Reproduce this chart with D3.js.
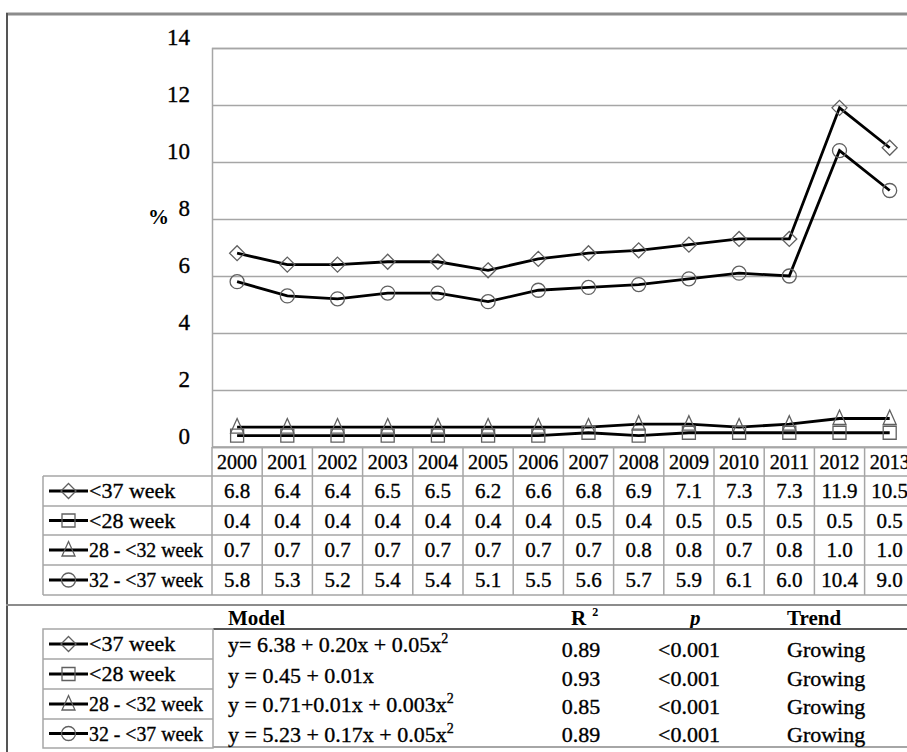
<!DOCTYPE html>
<html>
<head>
<meta charset="utf-8">
<script src="https://cdn.jsdelivr.net/npm/d3@7"></script>
<style>
  body { margin: 0; background: #fff; }
  svg { display: block; font-family: "Liberation Serif", "Times New Roman", serif; }
  .heavy { stroke: #000; stroke-width: 0.35px; }
</style>
</head>
<body>
<svg id="chart" width="907" height="752"></svg>
<script>
// data
var years = ["2000","2001","2002","2003","2004","2005","2006","2007","2008","2009","2010","2011","2012","2013"];
var seriesNames = ["<37 week", "<28 week", "28 - <32 week", "32 - <37 week"];
var markerTypes = ["diamond", "square", "triangle", "circle"];
var lt37   = [6.8, 6.4, 6.4, 6.5, 6.5, 6.2, 6.6, 6.8, 6.9, 7.1, 7.3, 7.3, 11.9, 10.5];
var lt28   = [0.4, 0.4, 0.4, 0.4, 0.4, 0.4, 0.4, 0.5, 0.4, 0.5, 0.5, 0.5, 0.5, 0.5];
var w28_32 = [0.7, 0.7, 0.7, 0.7, 0.7, 0.7, 0.7, 0.7, 0.8, 0.8, 0.7, 0.8, 1.0, 1.0];
var w32_37 = [5.8, 5.3, 5.2, 5.4, 5.4, 5.1, 5.5, 5.6, 5.7, 5.9, 6.1, 6.0, 10.4, 9.0];
var yTicks = [0, 2, 4, 6, 8, 10, 12, 14];

// regression models table
var models = [
  [{t: "y= 6.38 + 0.20x + 0.05x"}, {t: "2", sup: true}],
  [{t: "y = 0.45 + 0.01x"}],
  [{t: "y = 0.71+0.01x + 0.003x"}, {t: "2", sup: true}],
  [{t: "y = 5.23 + 0.17x + 0.05x"}, {t: "2", sup: true}]
];
var r2 = ["0.89", "0.93", "0.85", "0.89"];
var pvals = ["<0.001", "<0.001", "<0.001", "<0.001"];
var trends = ["Growing", "Growing", "Growing", "Growing"];

var allSeries = [lt37, lt28, w28_32, w32_37];

var svg = d3.select("#chart");
var gridColor = "#a6a6a6";
var serif = "Liberation Serif, Times New Roman, serif";

var plotLeft = 212, colW = 50.2;
var x = d3.scaleBand().domain(years).range([plotLeft, plotLeft + colW * years.length]);
var y = d3.scaleLinear().domain([0, 14]).range([447, 48]);

/* outer frame */
svg.append("line").attr("x1", 6).attr("x2", 907).attr("y1", 14).attr("y2", 14)
  .attr("stroke", "#8c8c8c").attr("stroke-width", 3);
svg.append("line").attr("x1", 7).attr("x2", 7).attr("y1", 13).attr("y2", 752)
  .attr("stroke", "#555").attr("stroke-width", 2);

/* gridlines + axis */
var yAxis = d3.axisLeft(y).tickValues(yTicks).tickSize(-(907 - plotLeft)).tickPadding(22);
var ga = svg.append("g").attr("transform", "translate(" + plotLeft + ",0)").call(yAxis)
  .attr("font-family", serif);
ga.select(".domain").attr("stroke", gridColor).attr("stroke-width", 1.5);
ga.selectAll(".tick line").attr("stroke", gridColor).attr("stroke-width", 1.5);
ga.selectAll(".tick text").attr("font-size", 23).attr("fill", "#000").attr("class", "heavy")
  .attr("dy", "-0.15em");

svg.append("text").attr("x", 148).attr("y", 224).attr("font-size", 21)
  .attr("font-weight", "bold").text("%");

/* markers */
function drawMarker(g, type, cx, cy) {
  var s = g.append("path").attr("fill", "none").attr("stroke", "#606060").attr("stroke-width", 1.3);
  if (type === "diamond") s.attr("d", "M" + cx + "," + (cy - 7.5) + "L" + (cx + 7.5) + "," + cy + "L" + cx + "," + (cy + 7.5) + "L" + (cx - 7.5) + "," + cy + "Z");
  else if (type === "square") s.attr("d", "M" + (cx - 6.5) + "," + (cy - 6.5) + "h13v13h-13Z");
  else if (type === "triangle") s.attr("d", "M" + cx + "," + (cy - 8.5) + "L" + (cx + 6.5) + "," + (cy + 6) + "L" + (cx - 6.5) + "," + (cy + 6) + "Z");
  else s.attr("d", d3.arc()({innerRadius: 0, outerRadius: 7, startAngle: 0, endAngle: 2 * Math.PI}))
        .attr("transform", "translate(" + cx + "," + cy + ")");
}

var line = d3.line()
  .x(function (d, i) { return x(years[i]) + x.bandwidth() / 2; })
  .y(function (d) { return y(d); });

// draw small series first so the big ones sit on top
[2, 1, 0, 3].forEach(function (k) {
  var g = svg.append("g");
  g.append("path").datum(allSeries[k]).attr("d", line)
    .attr("fill", "none").attr("stroke", "#000").attr("stroke-width", 2.8);
  allSeries[k].forEach(function (v, i) {
    drawMarker(g, markerTypes[k], x(years[i]) + x.bandwidth() / 2, y(v));
  });
});

/* data table */
var rowTop = [447, 476, 506, 535, 565, 595];
var tbl = svg.append("g");
var fmt = d3.format(".1f");

// horizontal lines
tbl.append("line").attr("x1", plotLeft).attr("x2", 907).attr("y1", rowTop[0]).attr("y2", rowTop[0])
  .attr("stroke", gridColor).attr("stroke-width", 1.5);
rowTop.slice(1).forEach(function (yy) {
  tbl.append("line").attr("x1", 43).attr("x2", 907).attr("y1", yy).attr("y2", yy)
    .attr("stroke", gridColor).attr("stroke-width", 1.5);
});
// vertical lines
years.forEach(function (yr) {
  tbl.append("line").attr("x1", x(yr)).attr("x2", x(yr)).attr("y1", rowTop[0]).attr("y2", rowTop[5])
    .attr("stroke", gridColor).attr("stroke-width", 1.5);
});
tbl.append("line").attr("x1", 43).attr("x2", 43).attr("y1", rowTop[1]).attr("y2", rowTop[5])
  .attr("stroke", gridColor).attr("stroke-width", 1.5);

years.forEach(function (yr) {
  tbl.append("text").attr("x", x(yr) + x.bandwidth() / 2).attr("y", 469)
    .attr("text-anchor", "middle").attr("font-size", 20).attr("class", "heavy").text(yr);
});

var labelLens = [null, null, 114, 114];
function legendRow(g, k, top, h) {
  var cy = top + h / 2;
  g.append("line").attr("x1", 49).attr("x2", 88).attr("y1", cy).attr("y2", cy)
    .attr("stroke", "#000").attr("stroke-width", 2.8);
  drawMarker(g, markerTypes[k], 68.5, cy);
  var t = g.append("text").attr("x", 89).attr("y", cy + 7).attr("font-size", 22)
    .attr("class", "heavy").text(seriesNames[k]);
  if (labelLens[k]) t.attr("textLength", labelLens[k]).attr("lengthAdjust", "spacingAndGlyphs");
}

allSeries.forEach(function (vals, k) {
  legendRow(tbl, k, rowTop[k + 1], rowTop[k + 2] - rowTop[k + 1]);
  vals.forEach(function (v, i) {
    tbl.append("text").attr("x", x(years[i]) + x.bandwidth() / 2)
      .attr("y", (rowTop[k + 1] + rowTop[k + 2]) / 2 + 7)
      .attr("text-anchor", "middle").attr("font-size", 21).attr("class", "heavy").text(fmt(v));
  });
});

/* model section */
svg.append("line").attr("x1", 6).attr("x2", 907).attr("y1", 605).attr("y2", 605)
  .attr("stroke", "#8c8c8c").attr("stroke-width", 2);

var mg = svg.append("g");
mg.append("text").attr("x", 228).attr("y", 625).attr("font-size", 21).attr("font-weight", "bold").text("Model");
var r2h = mg.append("text").attr("x", 571).attr("y", 625).attr("font-size", 21).attr("font-weight", "bold").text("R");
r2h.append("tspan").attr("dx", 6).attr("dy", -9).attr("font-size", 12).text("2");
mg.append("text").attr("x", 690).attr("y", 625).attr("font-size", 21).attr("font-weight", "bold")
  .attr("font-style", "italic").text("p");
mg.append("text").attr("x", 787).attr("y", 625).attr("font-size", 21).attr("font-weight", "bold").text("Trend");

mg.append("line").attr("x1", 213).attr("x2", 907).attr("y1", 629).attr("y2", 629)
  .attr("stroke", "#555").attr("stroke-width", 2);
mg.append("line").attr("x1", 213).attr("x2", 907).attr("y1", 747).attr("y2", 747)
  .attr("stroke", gridColor).attr("stroke-width", 2);

var mRows = [629, 659, 689, 719, 748];
mg.append("rect").attr("x", 43).attr("y", mRows[0]).attr("width", 170).attr("height", mRows[4] - mRows[0])
  .attr("fill", "none").attr("stroke", gridColor).attr("stroke-width", 1.5);
mRows.slice(1, 4).forEach(function (yy) {
  mg.append("line").attr("x1", 43).attr("x2", 213).attr("y1", yy).attr("y2", yy)
    .attr("stroke", gridColor).attr("stroke-width", 1.5);
});

var eqBase = [652, 683, 712, 742];
var colBase = [657, 686, 714, 742];
models.forEach(function (parts, k) {
  legendRow(mg, k, mRows[k], mRows[k + 1] - mRows[k]);
  var t = mg.append("text").attr("x", 228).attr("y", eqBase[k]).attr("font-size", 22).attr("class", "heavy");
  parts.forEach(function (p) {
    if (p.sup) t.append("tspan").attr("dy", -9).attr("font-size", 14).text(p.t);
    else t.append("tspan").text(p.t);
  });
  mg.append("text").attr("x", 581).attr("y", colBase[k]).attr("text-anchor", "middle").attr("font-size", 22).attr("class", "heavy").text(r2[k]);
  mg.append("text").attr("x", 689).attr("y", colBase[k]).attr("text-anchor", "middle").attr("font-size", 22).attr("class", "heavy").text(pvals[k]);
  mg.append("text").attr("x", 787).attr("y", colBase[k]).attr("font-size", 22).attr("class", "heavy").text(trends[k]);
});
</script>
</body>
</html>
